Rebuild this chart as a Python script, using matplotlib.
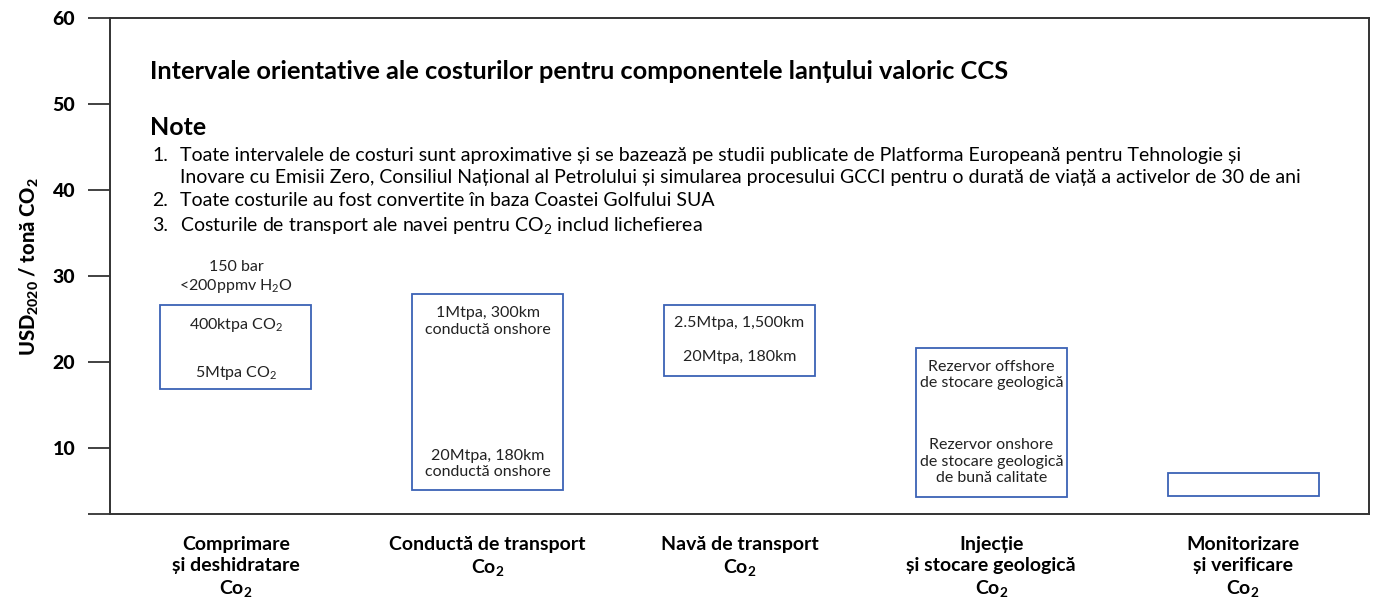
import matplotlib
matplotlib.use('Agg')
import matplotlib.pyplot as plt
from matplotlib.patches import Rectangle

plt.rcParams['font.family'] = ['Lato', 'DejaVu Sans']
plt.rcParams['mathtext.default'] = 'regular'

# etape ale lanțului CCS
categories = ['Comprimare\nși deshidratare\nCo$_2$',
              'Conductă de transport\nCo$_2$',
              'Navă de transport\nCo$_2$',
              'Injecție\nși stocare geologică\nCo$_2$',
              'Monitorizare\nși verificare\nCo$_2$']
cost_low = [16.9, 5.1, 18.4, 4.3, 4.4]
cost_high = [26.65, 27.9, 26.65, 21.6, 7.1]
y_ticks = [10, 20, 30, 40, 50, 60]

# etichete din interiorul casetelor
box_texts = [['400ktpa CO$_2$', '5Mtpa CO$_2$'],
             ['1Mtpa, 300km\nconductă onshore', '20Mtpa, 180km\nconductă onshore'],
             ['2.5Mtpa, 1,500km', '20Mtpa, 180km'],
             ['Rezervor offshore\nde stocare geologică',
              'Rezervor onshore\nde stocare geologică\nde bună calitate'],
             []]
box_text_y = [[24.3, 18.7], [24.7, 8.1], [24.5, 20.6], [18.5, 8.4], []]
above_text = '150 bar\n<200ppmv H$_2$O'

title = 'Intervale orientative ale costurilor pentru componentele lanțului valoric CCS'
notes = ['Toate intervalele de costuri sunt aproximative și se bazează pe studii publicate de Platforma Europeană pentru Tehnologie și',
         'Inovare cu Emisii Zero, Consiliul Național al Petrolului și simularea procesului GCCI pentru o durată de viață a activelor de 30 de ani',
         'Toate costurile au fost convertite în baza Coastei Golfului SUA',
         'Costurile de transport ale navei pentru CO$_2$ includ lichefierea']
note_nums = ['1.', '', '2.', '3.']

fig = plt.figure(figsize=(13.75, 5.99), dpi=100)
ax = fig.add_axes([0.08, 0.142, 0.9156, 0.8275])

box_color = '#3b62b5'
half_w = 0.3
for i in range(len(categories)):
    ax.add_patch(Rectangle((i - half_w, cost_low[i]), 2 * half_w,
                           cost_high[i] - cost_low[i], fill=False,
                           edgecolor=box_color, linewidth=1.3))
    for t, y in zip(box_texts[i], box_text_y[i]):
        ax.text(i, y, t, ha='center', va='center', fontsize=11.5,
                color='#222222', linespacing=1.2)
ax.text(0, 29.8, above_text, ha='center', va='center', fontsize=11.5,
        color='#222222', linespacing=1.2)

ax.set_xlim(-0.5, 4.5)
ax.set_ylim(2.3, 60)
ax.set_xticks(range(len(categories)))
ax.set_xticklabels(categories, fontsize=14, fontweight='bold', linespacing=1.25)
ax.tick_params(axis='x', length=0, pad=16)
ax.set_yticks([2.3] + y_ticks)
ax.set_yticklabels([''] + [str(v) for v in y_ticks], fontsize=14, fontweight='black')
ax.tick_params(axis='y', length=16, width=1.3, pad=9, color='#333333')
ax.set_ylabel('USD$_{2020}$ / tonă CO$_2$', fontsize=14.5, fontweight='black', labelpad=8)

for s in ax.spines.values():
    s.set_linewidth(1.4)
    s.set_color('#333333')

ax.text(0.0318, 0.892, title, transform=ax.transAxes, fontsize=18.3,
        fontweight='bold', va='center', ha='left')
ax.text(0.0318, 0.779, 'Note', transform=ax.transAxes, fontsize=18,
        fontweight='bold', va='center', ha='left')
note_y = [0.724, 0.678, 0.633, 0.581]
for n, t, y in zip(note_nums, notes, note_y):
    ax.text(0.0334, y, n, transform=ax.transAxes, fontsize=14, va='center', ha='left')
    ax.text(0.0556, y, t, transform=ax.transAxes, fontsize=14, va='center', ha='left')

fig.savefig('out.png', dpi=100)
